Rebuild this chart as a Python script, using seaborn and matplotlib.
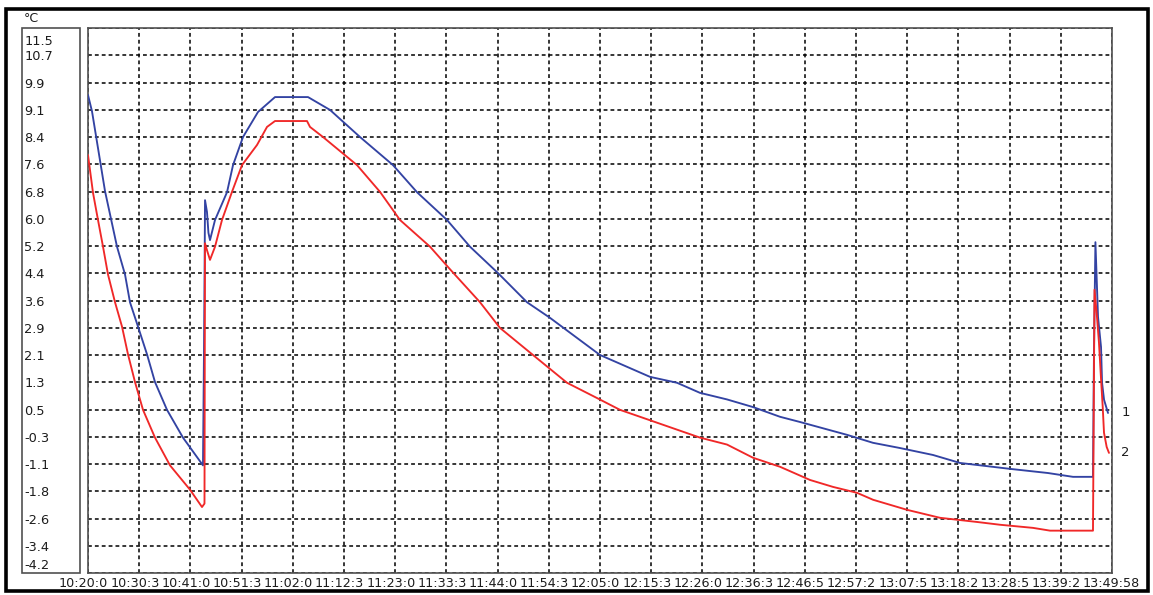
import numpy as np
import matplotlib
matplotlib.use('Agg')
import matplotlib.pyplot as plt
import seaborn as sns
from matplotlib.patches import Rectangle
from matplotlib.transforms import ScaledTranslation

# Données (temps en minutes depuis 10:20, température en °C)
t_capteur1 = [0.0, 0.82, 3.49, 5.95, 7.59, 8.61, 10.25, 12.10, 13.74, 16.20, 19.48, 23.58,
              23.79, 23.9, 24.0, 24.4, 24.7, 25.02, 26.05, 28.51, 29.74, 31.79, 34.86, 38.35,
              45.12, 49.63, 55.78, 62.55, 67.47, 73.62, 78.34, 84.08, 90.03, 94.75, 105.0,
              115.26, 120.79, 125.5, 131.05, 136.38, 141.92, 146.02, 155.66, 160.99, 166.52,
              173.29, 178.83, 189.08, 196.88, 202.0, 206.1, 206.3, 206.6, 207.13, 207.75,
              207.96, 208.37, 209.18]
v_capteur1 = [9.57, 9.1, 6.8, 5.2, 4.4, 3.6, 2.9, 2.1, 1.3, 0.5, -0.3, -1.1,
              2.2, 4.3, 6.54, 6.2, 5.6, 5.39, 5.97, 6.77, 7.55, 8.36, 9.08, 9.51,
              9.51, 9.14, 8.36, 7.55, 6.77, 5.97, 5.2, 4.44, 3.6, 3.15, 2.08,
              1.45, 1.28, 0.99, 0.8, 0.58, 0.3, 0.15, -0.22, -0.45, -0.6,
              -0.8, -1.03, -1.2, -1.32, -1.43, -1.43, 2.1, 5.33, 3.18, 2.31,
              1.28, 0.79, 0.41]

t_capteur2 = [0.0, 1.03, 2.05, 3.08, 4.10, 5.54, 6.97, 8.20, 9.64, 11.28, 13.74, 16.82,
              20.92, 23.38, 23.89, 23.99, 24.4, 25.02, 26.05, 27.48, 29.53, 31.58, 34.66,
              36.71, 38.35, 44.91, 45.53, 48.19, 55.17, 59.88, 63.98, 70.14, 74.24, 80.39,
              84.49, 91.26, 98.23, 104.39, 109.1, 115.26, 121.4, 125.5, 131.05, 136.38,
              141.92, 148.07, 152.79, 157.71, 160.99, 167.96, 174.73, 182.32, 187.03,
              193.80, 197.29, 206.1, 206.41, 206.92, 207.33, 207.68, 208.09, 208.36,
              208.91, 209.38]
v_capteur2 = [7.84, 6.75, 5.97, 5.2, 4.4, 3.6, 2.9, 2.1, 1.3, 0.5, -0.3, -1.1,
              -1.8, -2.3, -2.2, 5.3, 5.1, 4.82, 5.2, 5.97, 6.78, 7.55, 8.13,
              8.65, 8.82, 8.82, 8.65, 8.36, 7.55, 6.78, 5.97, 5.2, 4.55, 3.6,
              2.86, 2.08, 1.28, 0.84, 0.5, 0.2, -0.1, -0.3, -0.5, -0.88,
              -1.14, -1.52, -1.72, -1.89, -2.09, -2.38, -2.61, -2.73, -2.81,
              -2.9, -2.98, -2.98, 3.96, 3.18, 2.43, 1.56, 0.6, -0.16,
              -0.57, -0.74]

y_labels = ['-4.2', '-3.4', '-2.6', '-1.8', '-1.1', '-0.3', '0.5', '1.3', '2.1', '2.9', '3.6',
            '4.4', '5.2', '6.0', '6.8', '7.6', '8.4', '9.1', '9.9', '10.7', '11.5']
# les étiquettes de temps sont tronquées dans l'original (elles se chevauchent)
x_labels = ['10:20:0', '10:30:3', '10:41:0', '10:51:3', '11:02:0', '11:12:3', '11:23:0',
            '11:33:3', '11:44:0', '11:54:3', '12:05:0', '12:15:3', '12:26:0', '12:36:3',
            '12:46:5', '12:57:2', '13:07:5', '13:18:2', '13:28:5', '13:39:2', '13:49:58']
noms_series = ['1', '2']

# Mise en page en pixels (image 1153 x 595)
W, H = 1153, 595
def fig_rect(x0, y0, x1, y1):
    return [x0 / W, 1 - y1 / H, (x1 - x0) / W, (y1 - y0) / H]

sns.set_style('white')
plt.rcParams['font.family'] = ['DejaVu Sans']
fig = plt.figure(figsize=(W / 100, H / 100), dpi=100)
ax = fig.add_axes(fig_rect(88, 28, 1112, 573))

gris = '#505050'
texte = '#1c1c1c'

sns.lineplot(x=t_capteur1, y=v_capteur1, ax=ax, color='#3343a3', lw=1.35,
             sort=False, estimator=None, zorder=3)
sns.lineplot(x=t_capteur2, y=v_capteur2, ax=ax, color='#f02828', lw=1.35,
             sort=False, estimator=None, zorder=4)

ax.set_xlim(0, 210)
ax.set_ylim(-4.2, 11.5)
ax.set_xticks(np.arange(len(x_labels)) * 10.5)
ax.set_xticklabels(x_labels, fontsize=9.2, color=texte, ha='left')
ax.set_yticks(np.linspace(-4.2, 11.5, len(y_labels)))
ax.set_yticklabels(y_labels, fontsize=9.3, color=texte, ha='left')
ax.tick_params(axis='y', length=0, pad=46)
ax.tick_params(axis='x', length=0, pad=3)

# décalages en pixels des étiquettes
def decale(lab, dx, dy):
    lab.set_transform(lab.get_transform() + ScaledTranslation(dx / 100, dy / 100, fig.dpi_scale_trans))

for lab in ax.get_xticklabels():
    decale(lab, -29, 0)
ylabs = ax.get_yticklabels()
decale(ylabs[0], 0, 9)
decale(ylabs[-1], 0, -12)

ax.grid(True, color='black', linestyle=(0, (2.5, 2)), lw=1.1)
ax.set_axisbelow(True)
for sp in ax.spines.values():
    sp.set_color(gris)
    sp.set_linewidth(1.2)
ax.set_xlabel('')
ax.set_ylabel('')

# étiquettes des capteurs à la fin des courbes
ax.annotate(noms_series[0], xy=(t_capteur1[-1], v_capteur1[-1]), xytext=(10, 0),
            textcoords='offset points', ha='left', va='center', fontsize=9.5,
            color=texte, annotation_clip=False)
ax.annotate(noms_series[1], xy=(t_capteur2[-1], v_capteur2[-1]), xytext=(9, 0),
            textcoords='offset points', ha='left', va='center', fontsize=9.5,
            color=texte, annotation_clip=False)

# cadre des valeurs de l'axe y et cadre extérieur
r = fig_rect(22, 28, 80, 573)
fig.add_artist(Rectangle((r[0], r[1]), r[2], r[3], transform=fig.transFigure,
                         fill=False, edgecolor=gris, lw=1.2))
r = fig_rect(5.5, 8.5, 1147.5, 590.5)
fig.add_artist(Rectangle((r[0], r[1]), r[2], r[3], transform=fig.transFigure,
                         fill=False, edgecolor='black', lw=2.6))
fig.text(24 / W, 1 - 18 / H, '°C', fontsize=9, color=texte, ha='left', va='center')

plt.savefig('out.png', dpi=100)
plt.close()
